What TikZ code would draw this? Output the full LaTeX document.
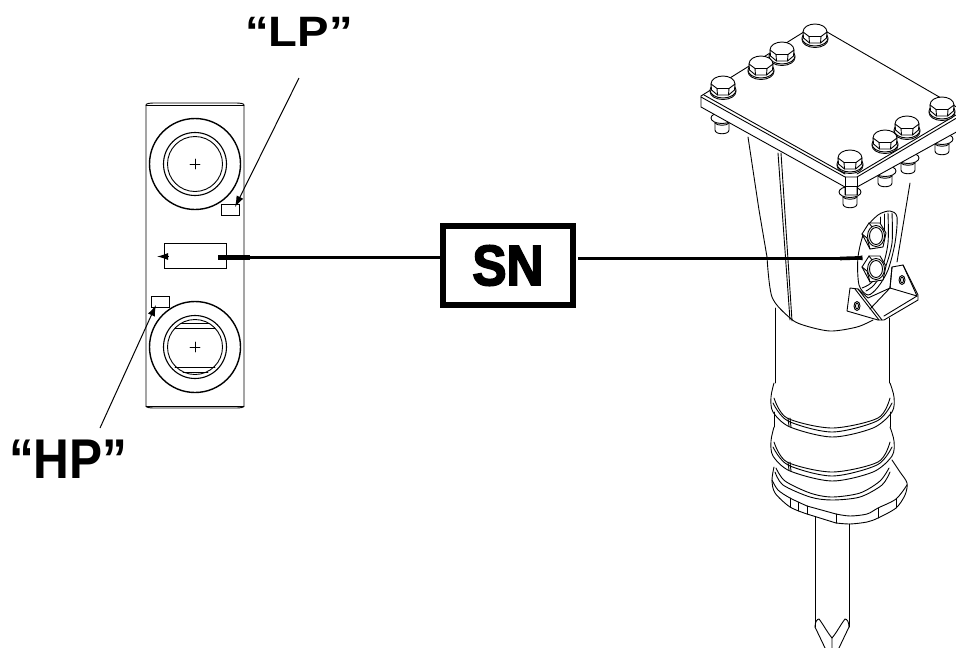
\documentclass[tikz,border=0pt]{standalone}
\usepackage{fontspec}
\usepackage{graphicx}
\setmainfont{Liberation Sans}
\usetikzlibrary{arrows.meta}
\font\snfont="Liberation Sans/B:embolden=3" at 57pt
\tikzset{
 ln/.style={line width=0.9pt,line join=round,line cap=round},
 thin ln/.style={line width=0.6pt,line join=round,line cap=round},
 lbl/.style={inner sep=0pt,anchor=base west,font=\bfseries},
 tag/.style={draw,line width=0.8pt,inner sep=0pt,fill=white},
 lead/.style={line width=1pt,-{Latex[length=11pt,width=7.5pt]}},
 thickl/.style={line width=3.6pt},
 pics/bolt/.style={code={
  \draw[ln,fill=white] (0,4.5) ellipse [x radius=13,y radius=8];
  \draw[ln,fill=white] (0,3) ellipse [x radius=13,y radius=8];
  \draw[ln,fill=white] (-12,-3) .. controls (-12,-8) and (-6,-11) .. (0,-11) .. controls (6,-11) and (12,-8) .. (12,-3) -- (11.5,3) -- (5.5,8) -- (-5.5,8) -- (-11.5,3) -- cycle;
  \draw[ln] (-12,-3) -- (-6,1.5) -- (6,1.5) -- (12,-3);
  \draw[ln] (-6,1.5) -- (-5.5,8) (6,1.5) -- (5.5,8);
 }},
 pics/stub/.style={code={
  \draw[ln,fill=white] (-7,-3) -- (-7,7) .. controls (-7,12) and (7,12) .. (7,7) -- (7,-3) -- cycle;
  \draw[ln,fill=white] (0,-5) ellipse [x radius=11,y radius=5.5];
  \draw[ln] (-7,0) .. controls (-5,3) and (5,3) .. (7,0);
 }},
 pics/nut/.style={code={
  \draw[ln,fill=white] (-13,-3) -- (-6,-14) -- (5,-14) -- (11,-4) -- (8,10) -- (-5,12) -- cycle;
  \draw[ln] (-13,-3) -- (-8,1) -- (-5,12) (-6,-14) -- (-3,-10);
  \draw[ln,fill=white] (1,-1) ellipse [x radius=8.5,y radius=10.5];
  \draw[ln] (1,-1) ellipse [x radius=6.5,y radius=8.5];
 }},
}
\begin{document}
\begin{tikzpicture}[x=1pt,y=-1pt]
\useasboundingbox (0,0) rectangle (956,648);
\clip (0,0) rectangle (956,648);
\fill[white] (0,0) rectangle (956,648);

% ---- left manifold block
\draw[ln] (146,105) .. controls (146,103.5) and (150,103) .. (154,103) -- (236,103) .. controls (240,103) and (244,103.5) .. (244,105) -- (244,406) .. controls (244,407.5) and (240,408) .. (236,408) -- (154,408) .. controls (150,408) and (146,407.5) .. (146,406) -- cycle;
\draw[ln] (146,105) -- (244,105) (146,406) -- (244,406);
\foreach \cy in {164,347}{
 \draw[line width=1.4pt] (195,\cy) circle [radius=45.5];
 \draw[line width=1.1pt] (195,\cy) circle [radius=31.5];
 \draw[ln] (195,\cy) circle [radius=27.5];
 \draw[thin ln] (190,\cy) -- (200,\cy) (195,\cy-5) -- (195,\cy+5);
}
\draw[ln] (181,323) -- (209,323) (175,328) -- (215,328);
\draw[ln] (175,367.5) -- (215,367.5) (183,372) -- (208,372);
\node[tag,minimum width=18pt,minimum height=11pt] (lpTag) at (230,209.5) {};
\node[tag,minimum width=18pt,minimum height=11pt] (hpTag) at (160,301.5) {};
\node[tag,minimum width=62pt,minimum height=25pt] (snTag) at (195,255.5) {};

% ---- labels
\node[lbl] (LP) at (245,46) {\scalebox{1.11}[1]{\fontsize{42.5}{45}\selectfont “LP”}};
\node[lbl] (HP) at (9,478) {\scalebox{0.885}[1]{\fontsize{56}{58}\selectfont “HP”}};

\coordinate (lpStart) at (299,78);
\coordinate (lpEnd) at (235,207);
\coordinate (hpStart) at (100,428);
\coordinate (hpEnd) at (156,305);
\draw[lead] (lpStart) -- (lpEnd);
\draw[lead] (hpStart) -- (hpEnd);

% ---- SN box
\node[draw,line width=5.5pt,minimum width=130pt,minimum height=79pt,inner sep=0pt] (SN) at (508,265.5)
 {\scalebox{0.9}[1]{\snfont SN}};

\coordinate (wedgeL) at (250,257.5);
\coordinate (wedgeL2) at (218,257.5);
\coordinate (tipL) at (157,256.5);
\coordinate (tailL) at (168,256.5);
\draw[thickl] (SN.west |- wedgeL) -- (wedgeL);
\draw[line width=5.2pt] (wedgeL) -- (wedgeL2);
\draw[line width=1pt,-{Latex[length=11pt,width=7pt]}] (tailL) -- (tipL);

% ---- breaker body
\draw[ln] (748,137) -- (759,210) -- (767,257);
\draw[ln] plot[smooth] coordinates {(767,257) (772,297) (790,318) (803,325) (830,331) (857,327) (873,320)};
\draw[ln] (778,153) -- (790,320);
\draw[ln] (781,153) -- (792,321);
\draw[ln] (910,183) -- (897,262);
\draw[ln] (775,308) -- (775,383);
\draw[ln] (889.5,318) -- (889.5,383);

% stubs under the plate
\foreach \p/\q in {722/123,942/144,908/163,885/176,850/197}{
 \pic at (\p,\q) {stub};
}
% plate
\draw[ln,fill=white] (815,25) -- (960,109) -- (960,130) -- (857,187) -- (857,195) -- (845,195) -- (845,187) -- (701,107) -- (701,96) -- cycle;
\draw[ln] (701,97) -- (845,177) -- (857,177) -- (960,116);
\draw[ln] (845,177) -- (845,195) (857,177) -- (857,195) (845,186) -- (857,186);
\draw[ln] (704,95) -- (845,174) (857,174) -- (956,115);
% bolts on the plate
\foreach \p/\q in {815/35,782/53,761/67,723/87,942/108,907/127,885/141,850/161}{
 \pic at (\p,\q) {bolt};
}

% port slot
\draw[ln,fill=white] plot[smooth cycle] coordinates {(890,211) (897,217) (895,243) (888,270) (878,287) (868,295) (859,285) (858,257) (865,230) (878,215)};
\draw[ln] plot[smooth] coordinates {(892,213) (892,243) (885,268) (874,285) (866,291)};
\draw[ln] plot[smooth] coordinates {(888,213) (888,243) (882,268) (871,283) (862,288)};
\draw[thin ln] (884,214) -- (884,240) (880,217) -- (880,240);
\pic at (875,237) {nut};
\pic at (875,270) {nut};

% bracket
\draw[ln,fill=white] (850,288) -- (847,311) -- (878,320) -- (884,320) -- (918,300) -- (918,295) -- (903,265) -- (892,267) -- (890,288) -- (868,298) -- (858,289) -- cycle;
\draw[ln] (858,289) -- (882,320);
\draw[ln] (855,289) -- (879,320);
\draw[ln] (892,267) -- (890,288) -- (917,296);
\draw[ln] (870,309) -- (890,288);
\draw[ln] (884,316) -- (917,296);
\draw[ln] (903,265) -- (917,296);
\draw[ln] (857,306) ellipse [x radius=3,y radius=4.5];
\draw[ln] (902,280) ellipse [x radius=3,y radius=4.5];
\draw[ln] (857,306) ellipse [x radius=1.5,y radius=3];
\draw[ln] (902,280) ellipse [x radius=1.5,y radius=3];

% right leader
\coordinate (wedgeR) at (840,258.5);
\coordinate (tipR) at (873,257.5);
\draw[line width=3.2pt,shorten <=2pt] (SN.east |- wedgeR) -- (wedgeR);
\draw[line width=3.6pt,-{Triangle[length=14pt,width=3.6pt]}] (wedgeR) -- (tipR);

% collars
\foreach \dy in {0,44}{
 \begin{scope}[yshift=-\dy pt]
 \draw[ln] plot[smooth] coordinates {(774,383) (771,397) (773,412) (790,427) (832,437) (873,428) (892,412) (894,397) (890,383)};
 \draw[ln] plot[smooth] coordinates {(774,398) (787,418) (832,428) (878,418) (890,398)};
 \draw[ln] plot[smooth] coordinates {(773,403) (788,421) (832,432) (877,421) (892,403)};
 \draw[ln] (788,418) -- (789,426) (790,418) -- (791,427);
 \end{scope}
}
\draw[ln] (774,412) -- (774,427) (890,412) -- (890,427);

% base flange
\draw[ln] plot[smooth] coordinates {(774,467) (772,480) (775,493) (790,507) (807,514)};
\draw[ln] (807,514) -- (836,523);
\draw[ln] plot[smooth] coordinates {(836,523) (850,524) (867,522) (878,518) (896,508) (905,495) (907,483) (900,472) (892,460)};
\draw[ln] plot[smooth] coordinates {(772,480) (778,490) (790,498) (807,506)};
\draw[ln] (807,506) -- (836,514);
\draw[ln] plot[smooth] coordinates {(836,514) (850,516) (867,514) (878,508) (896,499) (907,485)};
\draw[ln] plot[smooth] coordinates {(775,472) (783,485) (810,497) (832,500) (860,497) (882,485) (890,472)};
\draw[ln] plot[smooth] coordinates {(776,468) (785,481) (810,493) (832,497) (860,493) (880,481) (889,468)};
\draw[ln] (790,498) -- (790,507) (798,502) -- (798,511) (807,506) -- (807,514) (836,514) -- (836,523) (878,508) -- (878,518) (896,499) -- (896,508);

% chisel
\draw[ln] (815,517) -- (815,627) (849,524) -- (849,627);
\draw[ln] (815,627) .. controls (815,622) and (817,619) .. (819,619) .. controls (823,624) and (827,632) .. (832,638) .. controls (837,632) and (841,624) .. (845,619) .. controls (847,619) and (849,622) .. (849,627);
\draw[ln] (815,627) -- (826,650) (849,627) -- (838,650) (832,638) -- (832,650);
\end{tikzpicture}
\end{document}
